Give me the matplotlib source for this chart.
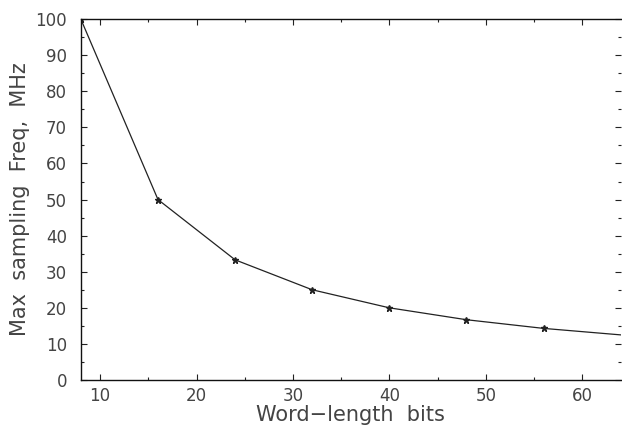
import matplotlib.pyplot as plt
from matplotlib.ticker import MultipleLocator

# word length (bits) vs max sampling frequency (MHz)
word_bits = [8, 16, 24, 32, 40, 48, 56, 64]
max_freq = [100, 50, 33.3, 25, 20, 16.7, 14.3, 12.5]

plt.rcParams['font.family'] = ['DejaVu Sans']

fig = plt.figure(figsize=(6.22, 4.26), dpi=100)
ax = fig.add_axes([0.130, 0.108, 0.868, 0.847])

ax.plot(word_bits, max_freq, color='#222222', linewidth=0.9)
ax.plot(word_bits[:-1], max_freq[:-1], linestyle='none', marker='*',
        markersize=5, color='#222222')

ax.set_xlim(8, 64)
ax.set_ylim(0, 100)
ax.xaxis.set_major_locator(MultipleLocator(10))
ax.xaxis.set_minor_locator(MultipleLocator(5))
ax.yaxis.set_major_locator(MultipleLocator(10))
ax.yaxis.set_minor_locator(MultipleLocator(5))
ax.tick_params(which='both', direction='in', top=True, right=True,
               labelsize=12, colors='#222222', labelcolor='#444444', width=0.8)
ax.tick_params(which='major', length=4)
ax.tick_params(axis='y', which='major', pad=10)
ax.tick_params(axis='x', which='major', pad=5)
ax.tick_params(which='minor', length=2)

for side in ['left', 'bottom', 'top']:
    ax.spines[side].set_linewidth(1.0)
    ax.spines[side].set_color('#111111')
ax.spines['right'].set_visible(False)

ax.set_xlabel('Word\u2212length  bits', fontsize=15, color='#444444', labelpad=0)
ax.set_ylabel('Max  sampling  Freq,  MHz', fontsize=15, color='#444444', labelpad=4)

fig.savefig('out.png', dpi=100)
